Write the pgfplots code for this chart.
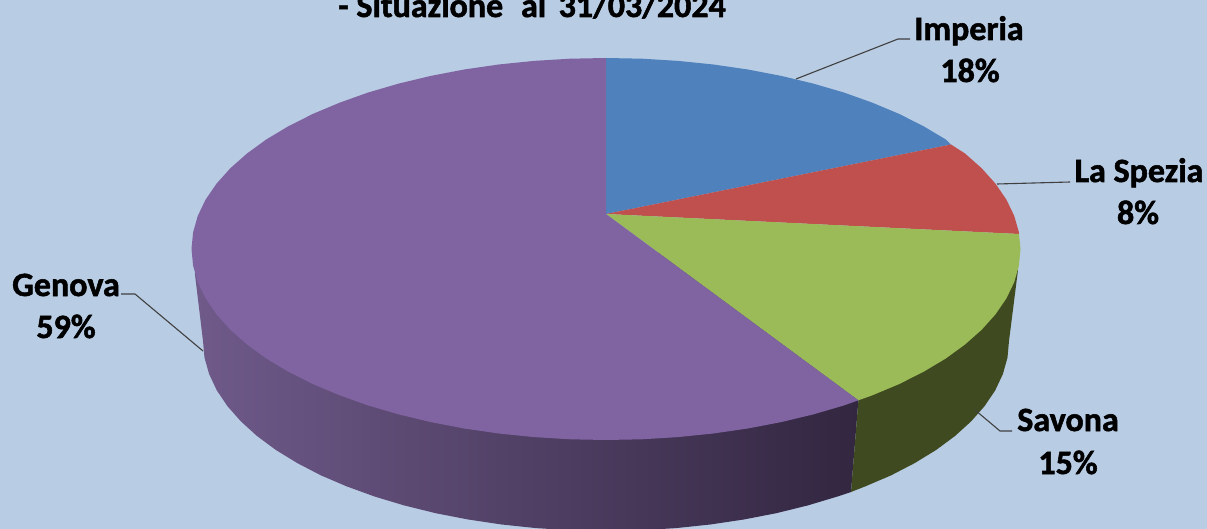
\documentclass[border=0pt]{standalone}
\usepackage{fontspec}
\setmainfont[BoldFeatures={FakeBold=1.6}]{Carlito}
\usepackage{pgfplots}
\pgfplotsset{compat=1.18}
\definecolor{bgc}{HTML}{B8CCE4}
\definecolor{imp}{HTML}{4F81BD}
\definecolor{spe}{HTML}{C0504D}
\definecolor{sav}{HTML}{9BBB59}
\definecolor{gen}{HTML}{8064A2}
\definecolor{savside}{HTML}{3F4A20}
\definecolor{genL}{HTML}{6F5A8A}
\definecolor{genR}{HTML}{322640}
\definecolor{lead}{HTML}{404040}
\tikzset{lbl/.style={font=\fontsize{34}{34}\selectfont\bfseries, anchor=base, inner sep=0pt, text=black}}
\begin{document}
\begin{tikzpicture}
\begin{axis}[
  hide axis, scale only axis, width=1207pt, height=529pt,
  xmin=0, xmax=1207, ymin=0, ymax=529, y dir=reverse,
  clip=true,
  every axis plot/.append style={line join=round},
]
% background
\addplot[draw=none, fill=bgc] coordinates {(0,0)(1207,0)(1207,529)(0,529)} -- cycle;
% side of Genova
\addplot[draw=none, left color=genL, right color=genR] coordinates {
(194.8,273)(203,341)(204.5,357.6)(209.1,374)(216.7,390.2)(227.3,406)(240.8,421.3)(257,436)(275.9,450)(297.3,463.1)(321,475.4)(347,486.5)(374.8,496.6)(404.5,505.5)(435.7,513.2)(468.2,519.5)(501.7,524.5)(536,528.1)(570.9,530.3)(606,531)(641.1,530.3)(676,528.1)(710.3,524.5)(743.8,519.5)(776.3,513.2)(807.5,505.5)(837.2,496.6)(851,492)(858.4,400.3)(606,250)
} -- cycle;
% side of Savona
\addplot[draw=none, fill=savside] coordinates {
(858.4,400.3)(851,492)(865,486.5)(891,475.4)(914.7,463.1)(936.1,450)(955,436)(971.2,421.3)(984.7,406)(995.3,390.2)(1002.9,374)(1007.5,357.6)(1009,341)(1018,270)(606,250)
} -- cycle;
% Imperia 18%
\addplot[draw=none, fill=imp] coordinates {
(606,214)(606,58)(642.1,58.7)(678,60.9)(713.3,64.5)(747.8,69.5)(781.2,75.9)(813.3,83.6)(843.8,92.5)(872.4,102.7)(899.1,113.9)(923.5,126.2)(945.6,139.4)(951,144.5)
} -- cycle;
% La Spezia 8%
\addplot[draw=none, fill=spe] coordinates {
(606,214)(951,144.5)(965,153.5)(981.7,168.3)(995.5,183.7)(1006.4,199.6)(1014.2,215.8)(1018.9,232.3)(1019,234)
} -- cycle;
% Savona 15%
\addplot[draw=none, fill=sav] coordinates {
(606,214)(1019,234)(1020.5,249)(1018.9,265.7)(1014.2,282.2)(1006.4,298.4)(995.5,314.3)(981.7,329.7)(965,344.5)(945.6,358.6)(923.5,371.8)(899.1,384.1)(872.4,395.3)(858.4,400.3)
} -- cycle;
% Genova 59%
\addplot[draw=none, fill=gen] coordinates {
(606,214)(858.4,400.3)(843.8,405.5)(813.3,414.4)(781.2,422.1)(747.8,428.5)(713.3,433.5)(678,437.1)(642.1,439.3)(606,440)(569.9,439.3)(534,437.1)(498.7,433.5)(464.2,428.5)(430.8,422.1)(398.7,414.4)(368.2,405.5)(339.6,395.3)(312.9,384.1)(288.5,371.8)(266.4,358.6)(247,344.5)(230.3,329.7)(216.5,314.3)(205.6,298.4)(197.8,282.2)(193.1,265.7)(191.5,249)(193.1,232.3)(197.8,215.8)(205.6,199.6)(216.5,183.7)(230.3,168.3)(247,153.5)(266.4,139.4)(288.5,126.2)(312.9,113.9)(339.6,102.7)(368.2,92.5)(398.7,83.6)(430.8,75.9)(464.2,69.5)(498.7,64.5)(534,60.9)(569.9,58.7)(606,58)
} -- cycle;
% leaders
\addplot[lead, line width=1.1pt] coordinates {(796,79)(898,39)(910,39)};
\addplot[lead, line width=1.1pt] coordinates {(997,184)(1070,182)};
\addplot[lead, line width=1.1pt] coordinates {(975,410)(1000,431)(1012,431)};
\addplot[lead, line width=1.1pt] coordinates {(203,351)(135,294)(121,294)};
% labels
\node[lbl] at (axis cs:969,40) {Imperia};
\node[lbl] at (axis cs:970,82) {18\%};
\node[lbl] at (axis cs:1139,182) {La Spezia};
\node[lbl] at (axis cs:1138,224) {8\%};
\node[lbl] at (axis cs:1068,431) {Savona};
\node[lbl] at (axis cs:1068,474) {15\%};
\node[lbl] at (axis cs:66,296) {Genova};
\node[lbl] at (axis cs:66,338) {59\%};
\node[lbl] at (axis cs:532,17) {- Situazione\hspace{0.3em} al\hspace{0.14em} 31/03/2024};
\end{axis}
\end{tikzpicture}
\end{document}
